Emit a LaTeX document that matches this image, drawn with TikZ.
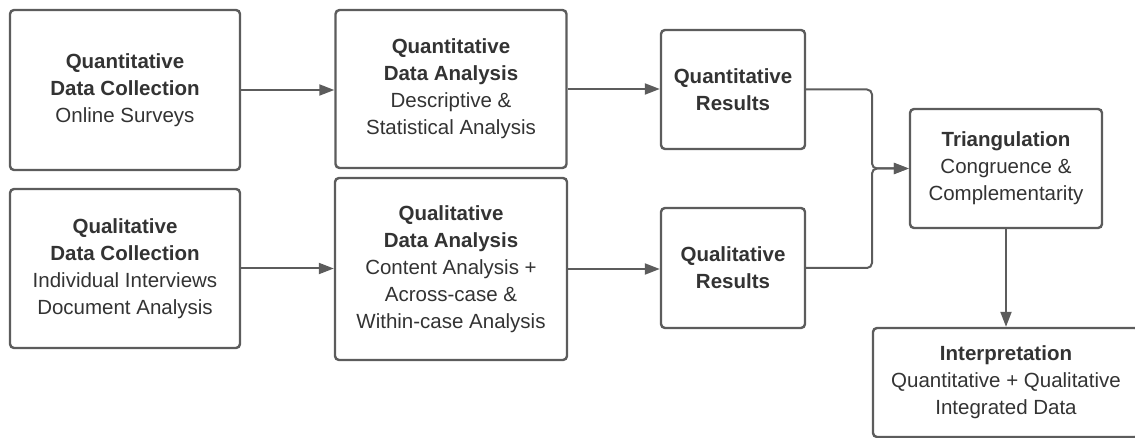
\documentclass[tikz,border=0pt]{standalone}
\usepackage{fontspec}
\setmainfont{Liberation Sans}
\usetikzlibrary{arrows.meta}
\definecolor{edge}{HTML}{5C5C5C}
\definecolor{txt}{HTML}{333333}
\tikzset{
  box/.style={draw=edge, line width=2.4pt, rounded corners=4pt, fill=white,
    align=center, text=txt, inner sep=0pt,
    font=\fontsize{20.5}{27}\selectfont},
  conn/.style={draw=edge, line width=2pt, rounded corners=5pt,
    -{Triangle[length=15pt,width=11pt]}},
}
\begin{document}
\begin{tikzpicture}[x=1pt,y=1pt]
\useasboundingbox (0,0) rectangle (1135,-438);
\clip (0,0) rectangle (1135,-438);
\node[box, minimum width=230, minimum height=160] (qcoll) at (125,-90)
  {\textbf{Quantitative}\\\textbf{Data Collection}\\Online Surveys};
\node[box, minimum width=230, minimum height=159] (lcoll) at (125,-268.5)
  {\textbf{Qualitative}\\\textbf{Data Collection}\\Individual Interviews\\Document Analysis};
\node[box, minimum width=231, minimum height=158] (qana) at (451,-89)
  {\textbf{Quantitative}\\\textbf{Data Analysis}\\Descriptive \&\\Statistical Analysis};
\node[box, minimum width=232, minimum height=182] (lana) at (451,-269)
  {\textbf{Qualitative}\\\textbf{Data Analysis}\\Content Analysis +\\Across-case \&\\Within-case Analysis};
\node[box, minimum width=144, minimum height=119] (qres) at (733,-89.5)
  {\textbf{Quantitative}\\\textbf{Results}};
\node[box, minimum width=144, minimum height=120] (lres) at (733,-268)
  {\textbf{Qualitative}\\\textbf{Results}};
\node[box, minimum width=192, minimum height=119] (tri) at (1006,-168.5)
  {\textbf{Triangulation}\\Congruence \&\\Complementarity};
\node[box, minimum width=266, minimum height=109] (interp) at (1006,-382.5)
  {\textbf{Interpretation}\\Quantitative + Qualitative\\Integrated Data};
\coordinate (j) at (872,-168.5);
\draw[conn] (qcoll.east) -- (qcoll.east -| qana.west);
\draw[conn] (lcoll.east) -- (lcoll.east -| lana.west);
\draw[conn] (qana.east) -- (qana.east -| qres.west);
\draw[conn] (lana.east) -- (lana.east -| lres.west);
\draw[conn] (qres.east) -| (j) -- (tri.west);
\draw[conn] (lres.east) -| (j) -- (tri.west);
\draw[conn] (tri.south) -- (interp.north);
\end{tikzpicture}
\end{document}
